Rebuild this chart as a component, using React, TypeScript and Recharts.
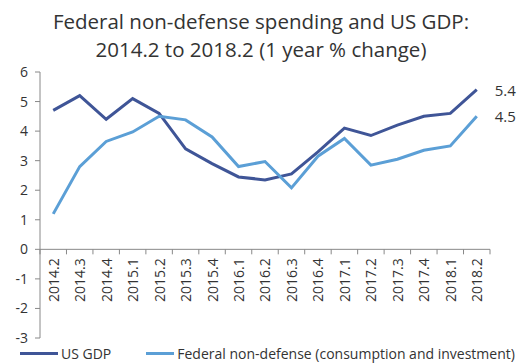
import React from 'react';
import { LineChart, Line, XAxis, YAxis, ReferenceLine } from 'recharts';

const quarters = [
  '2014.2', '2014.3', '2014.4', '2015.1', '2015.2', '2015.3', '2015.4', '2016.1', '2016.2',
  '2016.3', '2016.4', '2017.1', '2017.2', '2017.3', '2017.4', '2018.1', '2018.2',
];
const usGdp = [4.7, 5.2, 4.4, 5.1, 4.6, 3.4, 2.9, 2.45, 2.35, 2.55, 3.3, 4.1, 3.85, 4.2, 4.5, 4.6, 5.4];
const federalNonDefense = [1.2, 2.8, 3.65, 3.97, 4.5, 4.38, 3.8, 2.8, 2.97, 2.08, 3.15, 3.75, 2.85, 3.05, 3.35, 3.5, 4.5];
const yTicks = [-3, -2, -1, 0, 1, 2, 3, 4, 5, 6];

const seriesNames = ['US GDP', 'Federal non-defense (consumption and investment)'];
const GDP_COLOR = '#3f5597';
const FED_COLOR = '#5b9fd6';

const data = quarters.map((q, i) => ({ q, gdp: usGdp[i], fed: federalNonDefense[i] }));

const FONT = '"Open Sans", sans-serif';
const PLOT_TOP = 72;
const PLOT_H = 266;
const PLOT_LEFT = 40;
const PLOT_W = 450;
const zeroY = PLOT_TOP + ((6 - 0) / 9) * PLOT_H;
const band = PLOT_W / quarters.length;

const QuarterTick = (props: any) => {
  const { x, index } = props;
  const value = props.payload.value;
  return (
    <g>
      <line x1={x - band / 2} x2={x - band / 2} y1={zeroY} y2={zeroY + 5} stroke="#888" />
      {index === quarters.length - 1 && (
        <line x1={x + band / 2} x2={x + band / 2} y1={zeroY} y2={zeroY + 5} stroke="#888" />
      )}
      <text
        x={x}
        y={zeroY + 9}
        transform={`rotate(-90 ${x} ${zeroY + 9})`}
        textAnchor="end"
        dominantBaseline="central"
        fill="#333"
        fontSize={14}
        fontFamily={FONT}
      >
        {value}
      </text>
    </g>
  );
};

const endLabel = (values: number[]) => (p: any) => {
  if (p.index !== values.length - 1) return <g />;
  return (
    <text x={p.x + 18} y={p.y} dominantBaseline="central" fill="#333" fontSize={15} fontFamily={FONT}>
      {values[p.index]}
    </text>
  );
};

export default function App() {
  return (
    <div style={{ position: 'absolute', left: 0, top: 0, width: 522, height: 364, background: '#fff', fontFamily: FONT }}>
      <div style={{ position: 'absolute', left: 0, top: 7, width: 522, textAlign: 'center', fontSize: 20.5, lineHeight: '28px', color: '#333' }}>
        Federal non-defense spending and US GDP:
        <br />
        2014.2 to 2018.2 (1 year % change)
      </div>
      <LineChart width={522} height={364} data={data} margin={{ top: PLOT_TOP, right: 522 - PLOT_LEFT - PLOT_W, bottom: 364 - PLOT_TOP - PLOT_H - 1, left: 0 }}>
        <YAxis
          width={PLOT_LEFT}
          domain={[-3, 6]}
          ticks={yTicks}
          interval={0}
          tickSize={5}
          axisLine={{ stroke: '#888' }}
          tickLine={{ stroke: '#888' }}
          tick={{ fill: '#333', fontSize: 14, fontFamily: FONT, dx: -5 }}
        />
        <XAxis
          dataKey="q"
          height={1}
          padding={{ left: band / 2, right: band / 2 }}
          axisLine={false}
          tickLine={false}
          interval={0}
          tick={<QuarterTick />}
        />
        <ReferenceLine y={0} stroke="#888" />
        <Line type="linear" dataKey="gdp" stroke={GDP_COLOR} strokeWidth={3} dot={false} isAnimationActive={false} label={endLabel(usGdp)} />
        <Line type="linear" dataKey="fed" stroke={FED_COLOR} strokeWidth={3} dot={false} isAnimationActive={false} label={endLabel(federalNonDefense)} />
      </LineChart>
      <div style={{ position: 'absolute', left: 20, top: 344, display: 'flex', alignItems: 'center', fontSize: 14, color: '#333', whiteSpace: 'nowrap' }}>
        <span style={{ display: 'inline-block', width: 38, height: 3, background: GDP_COLOR, marginRight: 3 }} />
        <span style={{ marginRight: 35 }}>{seriesNames[0]}</span>
        <span style={{ display: 'inline-block', width: 28, height: 3, background: FED_COLOR, marginRight: 3 }} />
        <span>{seriesNames[1]}</span>
      </div>
    </div>
  );
}
